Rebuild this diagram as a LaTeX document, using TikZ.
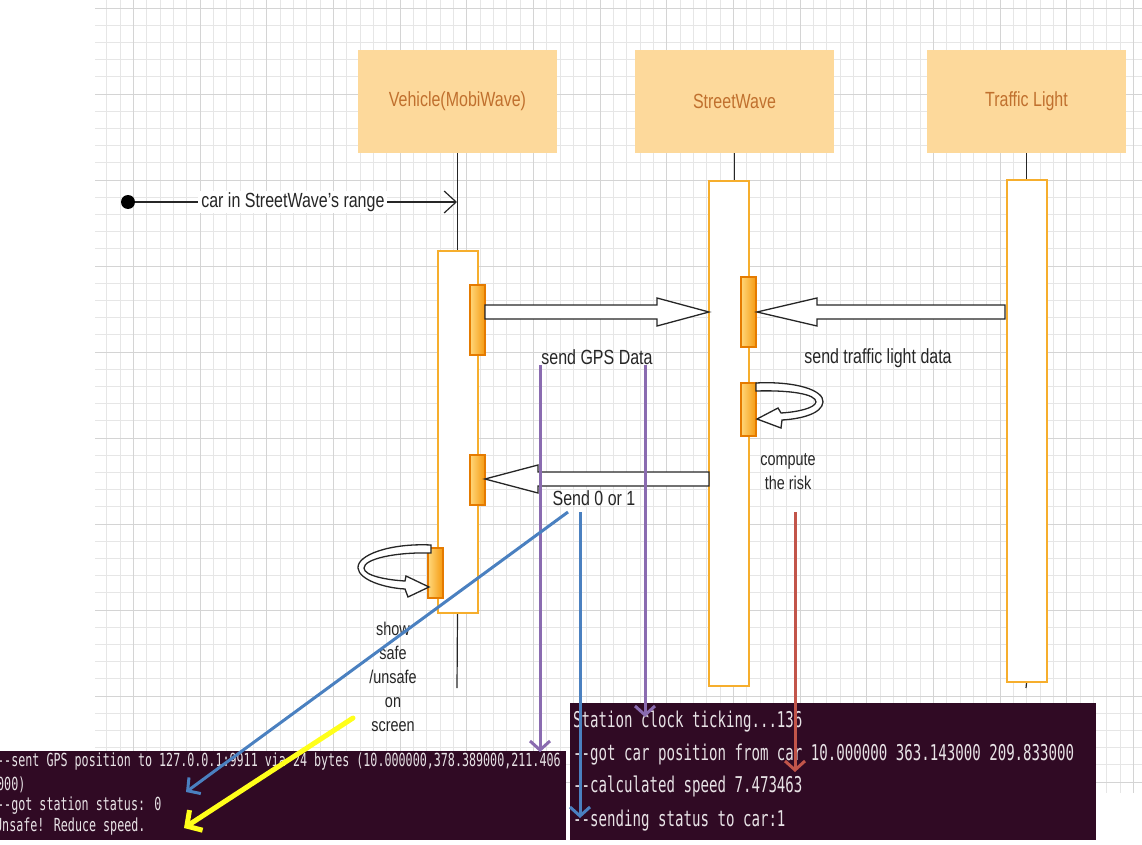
\documentclass[tikz,border=0pt]{standalone}
\usepackage{fontspec}
\setmainfont{Liberation Sans}[FakeStretch=0.78]
\newfontfamily\termfont{DejaVu Sans Mono}[FakeStretch=0.65]
\usetikzlibrary{arrows.meta,calc}
\definecolor{hdrfill}{HTML}{FDD99B}
\definecolor{hdrtext}{HTML}{C0702E}
\definecolor{actline}{HTML}{F6AE2D}
\definecolor{barA}{HTML}{FFD77A}
\definecolor{barB}{HTML}{F59A10}
\definecolor{barline}{HTML}{E57B00}
\definecolor{gridfine}{HTML}{E6E6E6}
\definecolor{gridmajor}{HTML}{D4D4D4}
\definecolor{termbg}{HTML}{300A24}
\definecolor{termtext}{HTML}{E8E3E6}
\definecolor{annpurple}{HTML}{8A6BB0}
\definecolor{annblue}{HTML}{4A80C0}
\definecolor{annred}{HTML}{C2554A}
\definecolor{annyellow}{HTML}{FFFF1A}
\definecolor{labeltext}{HTML}{262626}
\newcommand\blkarrow[4]{% start x, head base x, tip x, centre y
  \draw[blk] (#1,#4-7) -- (#2,#4-7) -- (#2,#4-14) -- (#3,#4) -- (#2,#4+14) -- (#2,#4+7) -- (#1,#4+7) -- cycle;}
\begin{document}
\begin{tikzpicture}[x=1pt,y=-1pt,
  hdr/.style={fill=hdrfill, text=hdrtext, minimum width=199pt, minimum height=103pt, inner sep=0pt, font=\fontsize{20.5}{24}\selectfont},
  actbar/.style={draw=actline, line width=2.2pt, fill=white, minimum width=40pt, inner sep=0pt},
  minibar/.style={draw=barline, line width=1.5pt, left color=barA, right color=barB, minimum width=15pt, inner sep=0pt},
  life/.style={draw=black!85, line width=1.2pt},
  blk/.style={draw=black!85, fill=white, line width=1.3pt, line join=miter},
  lbl/.style={text=labeltext, font=\fontsize{20.5}{24}\selectfont, inner sep=1pt},
  smalllbl/.style={text=labeltext, font=\fontsize{18.5}{24}\selectfont, align=center, inner sep=0pt},
  termtxt/.style={text=termtext, anchor=west, inner sep=0pt},
  ann/.style={line width=3pt, -{Straight Barb[length=9pt,width=20pt]}},
]
\useasboundingbox (0,0) rectangle (1142,845);
% grid
\foreach \k in {8,...,85} \draw[gridfine, line width=0.7pt] ({13.3333*\k},0) -- ({13.3333*\k},793);
\foreach \k in {0,...,45} \draw[gridfine, line width=0.7pt] (95,{8+17.2*\k}) -- (1142,{8+17.2*\k});
\foreach \k in {10,15,...,85} \draw[gridmajor, line width=0.9pt] ({13.3333*\k},0) -- ({13.3333*\k},793);
\foreach \k in {0,5,...,45} \draw[gridmajor, line width=0.9pt] (95,{8+17.2*\k}) -- (1142,{8+17.2*\k});

% headers
\node[hdr] (veh) at (457.5,101.5) {Vehicle(MobiWave)};
\node[hdr] (sw) at (734.5,101.5) {StreetWave};
\node[hdr] (tl) at (1026.5,101.5) {Traffic Light};

% activation bars
\node[actbar, minimum height=362pt] (vact) at (458,432) {};
\node[actbar, minimum height=505pt] (sact) at (729,433.5) {};
\node[actbar, minimum height=502pt] (tact) at (1027,431) {};

% lifelines
\coordinate (vend) at (457,688);
\coordinate (tend) at (1026,688);
\draw[life] (veh.south) -- (veh.south |- vact.north);
\draw[life] (veh.south |- vact.south) -- (vend);
\draw[life] (sw.south) -- (sw.south |- sact.north);
\draw[life] (tl.south) -- (tl.south |- tact.north);
\draw[life] (tl.south |- tact.south) -- (tend);

% small bars
\node[minibar, minimum height=70pt] (vb1) at (477.5,320) {};
\node[minibar, minimum height=50pt] (vb2) at (477.5,480) {};
\node[minibar, minimum height=50pt] (vb3) at (435.5,573) {};
\node[minibar, minimum height=70pt] (sb1) at (748.5,312) {};
\node[minibar, minimum height=53pt] (sb2) at (748.5,409.5) {};

% start message
\node[circle, fill=black, inner sep=0pt, minimum size=14pt] (start) at (128,202) {};
\coordinate (vin) at (457,202);
\draw[life, -{Straight Barb[length=12pt,width=22pt]}] (start) -- (vin)
  node[pos=0.49, fill=white, lbl, inner xsep=3pt] {car in StreetWave's range};

% block arrows
\blkarrow{485}{657}{709}{312}
\blkarrow{1005}{817}{757}{312}
\blkarrow{709}{538}{485}{479}

% self loops
\draw[blk] (756,383) .. controls (795,381) and (824,390) .. (823,402)
  .. controls (822,414) and (800,419) .. (782,420) -- (781,428) -- (757,419) -- (778,408) -- (781,413)
  .. controls (798,412) and (815,408) .. (816,402) .. controls (816,394) and (790,390) .. (756,391) -- cycle;
\draw[blk] (431,545) .. controls (390,543) and (357,555) .. (358,568)
  .. controls (359,580) and (385,588) .. (405,589) -- (408,597) -- (429,587) -- (406,576) -- (405,581)
  .. controls (388,580) and (364,576) .. (364,568) .. controls (364,559) and (395,552) .. (431,553) -- cycle;

% labels
\node[lbl] (lgps) at (597,357) {send GPS Data};
\node[lbl] (ltl) at (878,358) {send traffic light data};
\node[lbl] (lsend) at (594,498) {Send 0 or 1};
\node[smalllbl] (lcomp) at (788,472) {compute\\the risk};
\node[smalllbl] (lshow) at (393,677) {show\\safe\\/unsafe\\on\\screen};

% terminals
\fill[termbg] (0,751) rectangle (566,840);
\fill[termbg] (570,703) rectangle (1096,840);
\begin{scope}
\clip (0,751) rectangle (566,840);
\begin{scope}[every node/.style={termtxt, font=\termfont\fontsize{18}{20}\selectfont}]
\node (t1) at (-3,762) {--sent GPS position to 127.0.0.1:9911 via 24 bytes (10.000000,378.389000,211.406};
\node (t2) at (-3,785) {000)};
\node (t3) at (-3,806) {--got station status: 0};
\node (t4) at (-5,827) {Unsafe! Reduce speed.};
\end{scope}
\end{scope}
\begin{scope}[every node/.style={termtxt, font=\termfont\fontsize{21.7}{24}\selectfont}]
\node (r1) at (573,722) {Station clock ticking...136};
\node (r2) at (573,755) {--got car position from car 10.000000 363.143000 209.833000};
\node (r3) at (573,786) {--calculated speed 7.473463};
\node (r4) at (573,821) {--sending status to car:1};
\end{scope}

% annotation arrows
\coordinate (p1s) at (540,365); \coordinate (p1e) at (540,752);
\coordinate (p2s) at (645,365); \coordinate (p2e) at (645,717);
\coordinate (b1s) at (580,512); \coordinate (b1e) at (580,818);
\coordinate (b2s) at (568,512); \coordinate (b2e) at (186,792);
\coordinate (rds) at (795,512); \coordinate (rde) at (795,772);
\coordinate (ys) at (353,718); \coordinate (ye) at (184,828);
\draw[ann, annpurple] (p1s) -- (p1e);
\draw[ann, annpurple] (p2s) -- (p2e);
\draw[ann, annblue] (b1s) -- (b1e);
\draw[ann, annblue] (b2s) -- (b2e);
\draw[ann, annred] (rds) -- (rde);
\draw[annyellow, line width=5pt, line cap=round, -{Straight Barb[length=11pt,width=24pt]}] (ys) -- (ye);
\end{tikzpicture}
\end{document}
